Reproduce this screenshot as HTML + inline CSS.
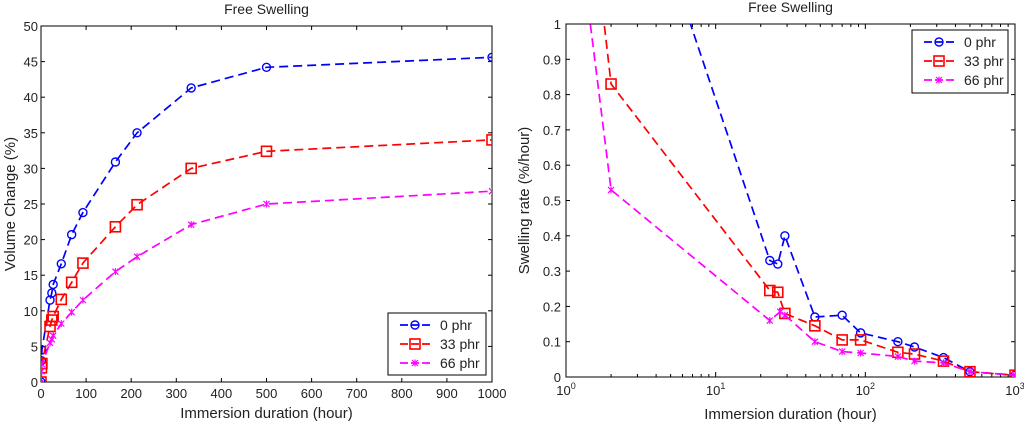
<!DOCTYPE html>
<html><head><meta charset="utf-8"><style>
body{margin:0;background:#fff;}
svg{display:block;font-family:"Liberation Sans",sans-serif;}
</style></head><body>
<svg id="fig" width="1024" height="423">
<defs>
<clipPath id="cl"><rect x="41" y="26" width="451" height="356"/></clipPath>
<clipPath id="cr"><rect x="566" y="24" width="449" height="353"/></clipPath>
</defs>
</svg>
<script>
const tHours=[0,1,2,20,24,27,45,68,93,165,213,333,500,1000];
const vol0=[0,3,4.5,11.5,12.5,13.7,16.6,20.7,23.8,30.9,35,41.3,44.2,45.6];
const vol33=[0,2,2.6,7.8,8.7,9.2,11.6,14,16.7,21.8,24.9,30,32.4,34];
const vol66=[0,1.5,2.5,5.5,6,6.5,8.2,9.8,11.5,15.5,17.6,22.1,25,26.8];
const rT0=[1,2,23,26,29,46,70,93,165,213,333,500,1000];
const rate0=[4.5,1.67,0.33,0.32,0.4,0.17,0.175,0.125,0.1,0.085,0.055,0.015,0.005];
const rT33=[1,2,23,26,29,46,70,93,165,213,333,500,1000];
const rate33=[1.94,0.83,0.245,0.24,0.18,0.145,0.105,0.105,0.07,0.065,0.045,0.015,0.005];
const rT66=[1,2,23,27,29,46,70,93,165,213,333,500,1000];
const rate66=[1.55,0.53,0.16,0.185,0.175,0.1,0.072,0.068,0.058,0.045,0.04,0.015,0.005];
const xTicksL=[0,100,200,300,400,500,600,700,800,900,1000];
const yTicksL=[0,5,10,15,20,25,30,35,40,45,50];
const yTicksR=[0,0.1,0.2,0.3,0.4,0.5,0.6,0.7,0.8,0.9,1];
const xDecR=[0,1,2,3];
const seriesNames=['0 phr','33 phr','66 phr'];
const colors=['#0000ff','#ff0000','#ff00ff'];
const markers=['circle','square','star'];

const NS='http://www.w3.org/2000/svg';
const svg=document.getElementById('fig');
function el(tag,attrs,parent){const e=document.createElementNS(NS,tag);for(const k in attrs)e.setAttribute(k,attrs[k]);(parent||svg).appendChild(e);return e;}
const L={x0:41,x1:492,y0:382,y1:26};
const R={x0:566,x1:1015,y0:377,y1:24};
const xL=v=>L.x0+(v/1000)*(L.x1-L.x0);
const yL=v=>L.y0-(v/50)*(L.y0-L.y1);
const xR=v=>R.x0+(Math.log10(v)/3)*(R.x1-R.x0);
const yR=v=>R.y0-v*(R.y0-R.y1);

function marker(g,type,x,y,c){
  let m;
  if(type==='circle'){m=el('circle',{cx:x,cy:y,r:4,fill:'none',stroke:c,'stroke-width':1.4},g);}
  else if(type==='square'){m=el('rect',{x:x-5,y:y-5,width:10,height:10,fill:'none',stroke:c,'stroke-width':1.6},g);}
  else{m=el('path',{d:`M${x-3},${y-3}L${x+3},${y+3}M${x+3},${y-3}L${x-3},${y+3}M${x},${y-3.5}L${x},${y+3.5}`,stroke:c,'stroke-width':1.2},g);}
  
  
}
function series(xs,ys,fx,fy,c,mk,clip,name){
  const g=el('g',{'clip-path':`url(#${clip})`});
  
  
  const pts=xs.map((v,i)=>fx(v).toFixed(1)+','+fy(ys[i]).toFixed(1)).join(' ');
  el('polyline',{points:pts,fill:'none',stroke:c,'stroke-width':1.7,'stroke-dasharray':'9,5'},g);
  xs.forEach((v,i)=>marker(g,mk,fx(v),fy(ys[i]),c));
}
function axesBox(A,name){
  const r=el('rect',{x:A.x0,y:A.y1,width:A.x1-A.x0,height:A.y0-A.y1,fill:'#fff',stroke:'#000','stroke-width':1});
  
  
}
function text(x,y,s,anchor,name,extra){
  const t=el('text',Object.assign({x:x,y:y,'font-size':13,'text-anchor':anchor,fill:'#222'},extra||{}));
  t.textContent=s;
  
  
  return t;
}
// LEFT
axesBox(L,'left-plot-area');
xTicksL.forEach(v=>{const x=xL(v);el('line',{x1:x,y1:L.y0,x2:x,y2:L.y0-4,stroke:'#000'});el('line',{x1:x,y1:L.y1,x2:x,y2:L.y1+4,stroke:'#000'});text(x,L.y0+16,String(v),'middle','x-tick-label');});
yTicksL.forEach(v=>{const y=yL(v);el('line',{x1:L.x0,y1:y,x2:L.x0+4,y2:y,stroke:'#000'});el('line',{x1:L.x1,y1:y,x2:L.x1-4,y2:y,stroke:'#000'});text(L.x0-3,y+5,String(v),'end','y-tick-label');});
text((L.x0+L.x1)/2,14,'Free Swelling','middle','left-title',{'font-size':14});
text((L.x0+L.x1)/2,418,'Immersion duration (hour)','middle','left-x-axis-title',{'font-size':15});
text(0,0,'Volume Change (%)','middle','left-y-axis-title',{'font-size':15,transform:`translate(15,${(L.y0+L.y1)/2}) rotate(-90)`});
[vol0,vol33,vol66].forEach((ys,i)=>series(tHours,ys,xL,yL,colors[i],markers[i],'cl','left-series-'+i));
// RIGHT
axesBox(R,'right-plot-area');
xDecR.forEach(d=>{const x=xR(Math.pow(10,d));el('line',{x1:x,y1:R.y0,x2:x,y2:R.y0-5,stroke:'#000'});el('line',{x1:x,y1:R.y1,x2:x,y2:R.y1+5,stroke:'#000'});
  const t=text(x,R.y0+18,'10','middle','x-tick-label');const s=document.createElementNS(NS,'tspan');s.setAttribute('dy','-6');s.setAttribute('font-size','9');s.textContent=String(d);t.appendChild(s);
  if(d<3)for(let k=2;k<10;k++){const xm=xR(k*Math.pow(10,d));el('line',{x1:xm,y1:R.y0,x2:xm,y2:R.y0-3,stroke:'#000'});el('line',{x1:xm,y1:R.y1,x2:xm,y2:R.y1+3,stroke:'#000'});}
});
yTicksR.forEach(v=>{const y=yR(v);el('line',{x1:R.x0,y1:y,x2:R.x0+4,y2:y,stroke:'#000'});el('line',{x1:R.x1,y1:y,x2:R.x1-4,y2:y,stroke:'#000'});text(R.x0-5,y+5,String(v),'end','y-tick-label');});
text((R.x0+R.x1)/2,12,'Free Swelling','middle','right-title',{'font-size':14});
text((R.x0+R.x1)/2,419,'Immersion duration (hour)','middle','right-x-axis-title',{'font-size':15});
text(0,0,'Swelling rate (%/hour)','middle','right-y-axis-title',{'font-size':15,transform:`translate(529,${(R.y0+R.y1)/2}) rotate(-90)`});
[[rT0,rate0],[rT33,rate33],[rT66,rate66]].forEach((s,i)=>series(s[0],s[1],xR,yR,colors[i],markers[i],'cr','right-series-'+i));
// legends
function legend(x,y,w,h,name){
  const g=el('g',{});
  
  
  el('rect',{x:x,y:y,width:w,height:h,fill:'#fff',stroke:'#000'},g);
  seriesNames.forEach((n,i)=>{const yy=y+12+i*19;
    el('line',{x1:x+12,y1:yy,x2:x+42,y2:yy,stroke:colors[i],'stroke-width':1.7,'stroke-dasharray':'8,3'},g);
    marker(g,markers[i],x+27,yy,colors[i]);
    const t=el('text',{x:x+52,y:yy+5,'font-size':14,fill:'#222'},g);t.textContent=n;
    
    
  });
}
legend(388,313,98,62,'left-legend');
legend(912,30,96,63,'right-legend');
</script>
</body></html>
